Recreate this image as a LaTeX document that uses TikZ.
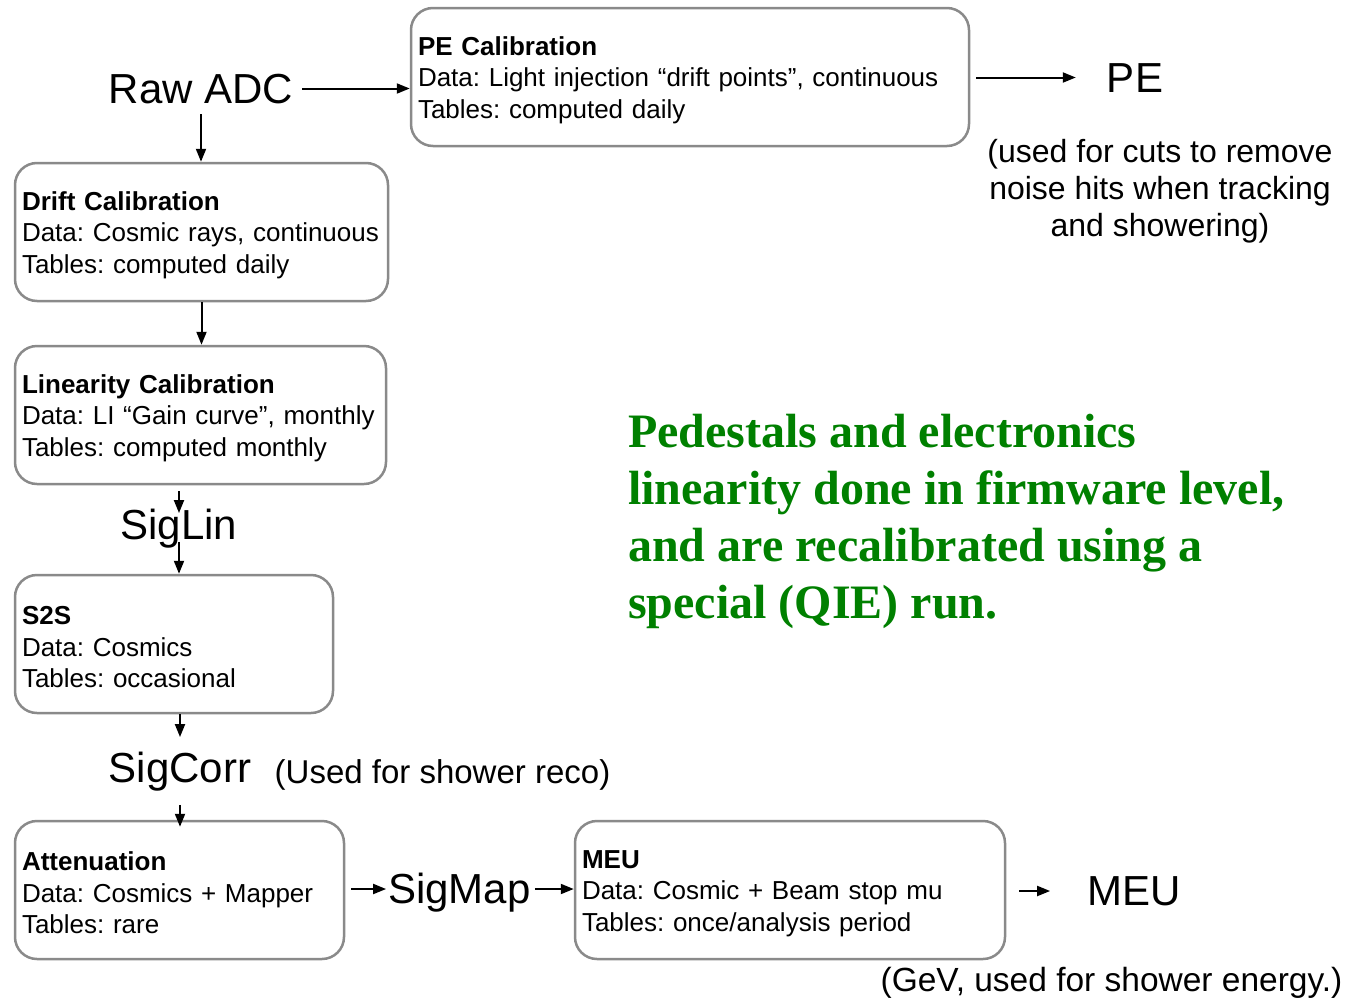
\documentclass[tikz,border=0pt]{standalone}
\usepackage{fontspec}
\setmainfont{Liberation Sans}
\newfontfamily\greenserif{Liberation Serif}
\usetikzlibrary{arrows.meta}
\definecolor{boxgray}{HTML}{8A8A8A}
\definecolor{notegreen}{HTML}{008000}
\newcommand{\boxstrut}{\rule{0pt}{25pt}}
\newcommand{\nohyph}{\hyphenpenalty=10000\relax\exhyphenpenalty=10000\relax}
\tikzset{
  box/.style={draw=boxgray, line width=2.5pt, rounded corners=22pt, minimum height=138pt,
    inner xsep=7pt, inner ysep=0pt, align=left,
    font=\fontsize{26}{31.5}\selectfont\frenchspacing\nohyph},
  biglabel/.style={inner sep=0pt, text height=29.5pt, text depth=0pt, font=\fontsize{42}{42}\selectfont},
  note/.style={inner sep=0pt, align=center, font=\fontsize{33}{37}\selectfont\frenchspacing},
  arr/.style={line width=2pt, -{Triangle[length=13pt,width=10pt]}}
}
\begin{document}
\begin{tikzpicture}[x=1pt,y=-1pt]
\useasboundingbox (0,0) rectangle (1361,999);
% boxes
\node[box, text width=544pt] (pe) at (690,77) {\boxstrut\textbf{PE Calibration}\\Data: Light injection “drift points”, continuous\\Tables: computed daily};
\node[box, text width=359pt] (drift) at (201.5,232) {\boxstrut\textbf{Drift Calibration}\\Data: Cosmic rays, continuous\\Tables: computed daily};
\node[box, text width=357pt] (lin) at (200.5,415) {\boxstrut\textbf{Linearity Calibration}\\Data: LI “Gain curve”, monthly\\Tables: computed monthly};
\node[box, text width=304pt] (s2s) at (174,644) {\boxstrut\textbf{S2S}\\Data: Cosmics\\Tables: occasional};
\node[box, text width=315pt] (att) at (179.5,890) {\boxstrut\textbf{Attenuation}\\Data: Cosmics + Mapper\\Tables: rare};
\node[box, text width=416pt] (meu) at (790,890) {\boxstrut\textbf{MEU}\\Data: Cosmic + Beam stop mu\\Tables: once/analysis period};
% labels
\node[biglabel] (raw) at (201,88.5) {Raw ADC};
\node[biglabel] (pelabel) at (1135,77.5) {PE};
\node[biglabel] (siglin) at (179,525) {SigLin};
\node[biglabel] (sigcorr) at (180,768) {SigCorr};
\node[biglabel] (sigmap) at (459.5,889) {SigMap};
\node[biglabel] (meulabel) at (1134,891) {MEU};
\node[note, anchor=base, font=\fontsize{32}{37}\selectfont\frenchspacing] (penote) at (1160,236) {(used for cuts to remove\\noise hits when tracking\\and showering)};
\node[note, anchor=base] (recon) at (442.5,783) {(Used for shower reco)};
\node[note, anchor=base, font=\fontsize{33.5}{37}\selectfont\frenchspacing] (gevnote) at (1111.5,991) {(GeV, used for shower energy.)};
\node[anchor=base west, inner sep=0pt, align=left, text=notegreen,
  font=\greenserif\bfseries\fontsize{48}{57}\selectfont] (green) at (628,618)
  {Pedestals and electronics\\linearity done in firmware level,\\and are recalibrated using a\\special (QIE) run.};
% connectors
\draw[arr, shorten <=9pt] (raw.east) -- (raw.east -| pe.west);
\draw[arr, shorten <=11pt] (raw.south) -- (raw.south |- drift.north);
\draw[arr] (drift.south) -- (drift.south |- lin.north);
\draw[arr, shorten <=6pt, shorten >=-3pt] (lin.south -| siglin.north) -- (siglin.north);
\draw[arr, shorten <=2pt] (siglin.south) -- (siglin.south |- s2s.north);
\draw[arr, shorten >=16pt] (s2s.south -| sigcorr.north) -- (sigcorr.north);
\draw[arr, shorten <=22pt, shorten >=-7pt] (sigcorr.south) -- (sigcorr.south |- att.north);
\draw[arr, shorten <=6pt, shorten >=2pt] (att.east |- sigmap.west) -- (sigmap.west);
\draw[arr, shorten <=4pt] (sigmap.east) -- (sigmap.east -| meu.west);
\draw[arr, shorten <=6pt, shorten >=31pt] (pe.east |- pelabel.west) -- (pelabel.west);
\draw[arr, shorten <=13pt, shorten >=37pt] (meu.east |- meulabel.west) -- (meulabel.west);
\end{tikzpicture}
\end{document}
